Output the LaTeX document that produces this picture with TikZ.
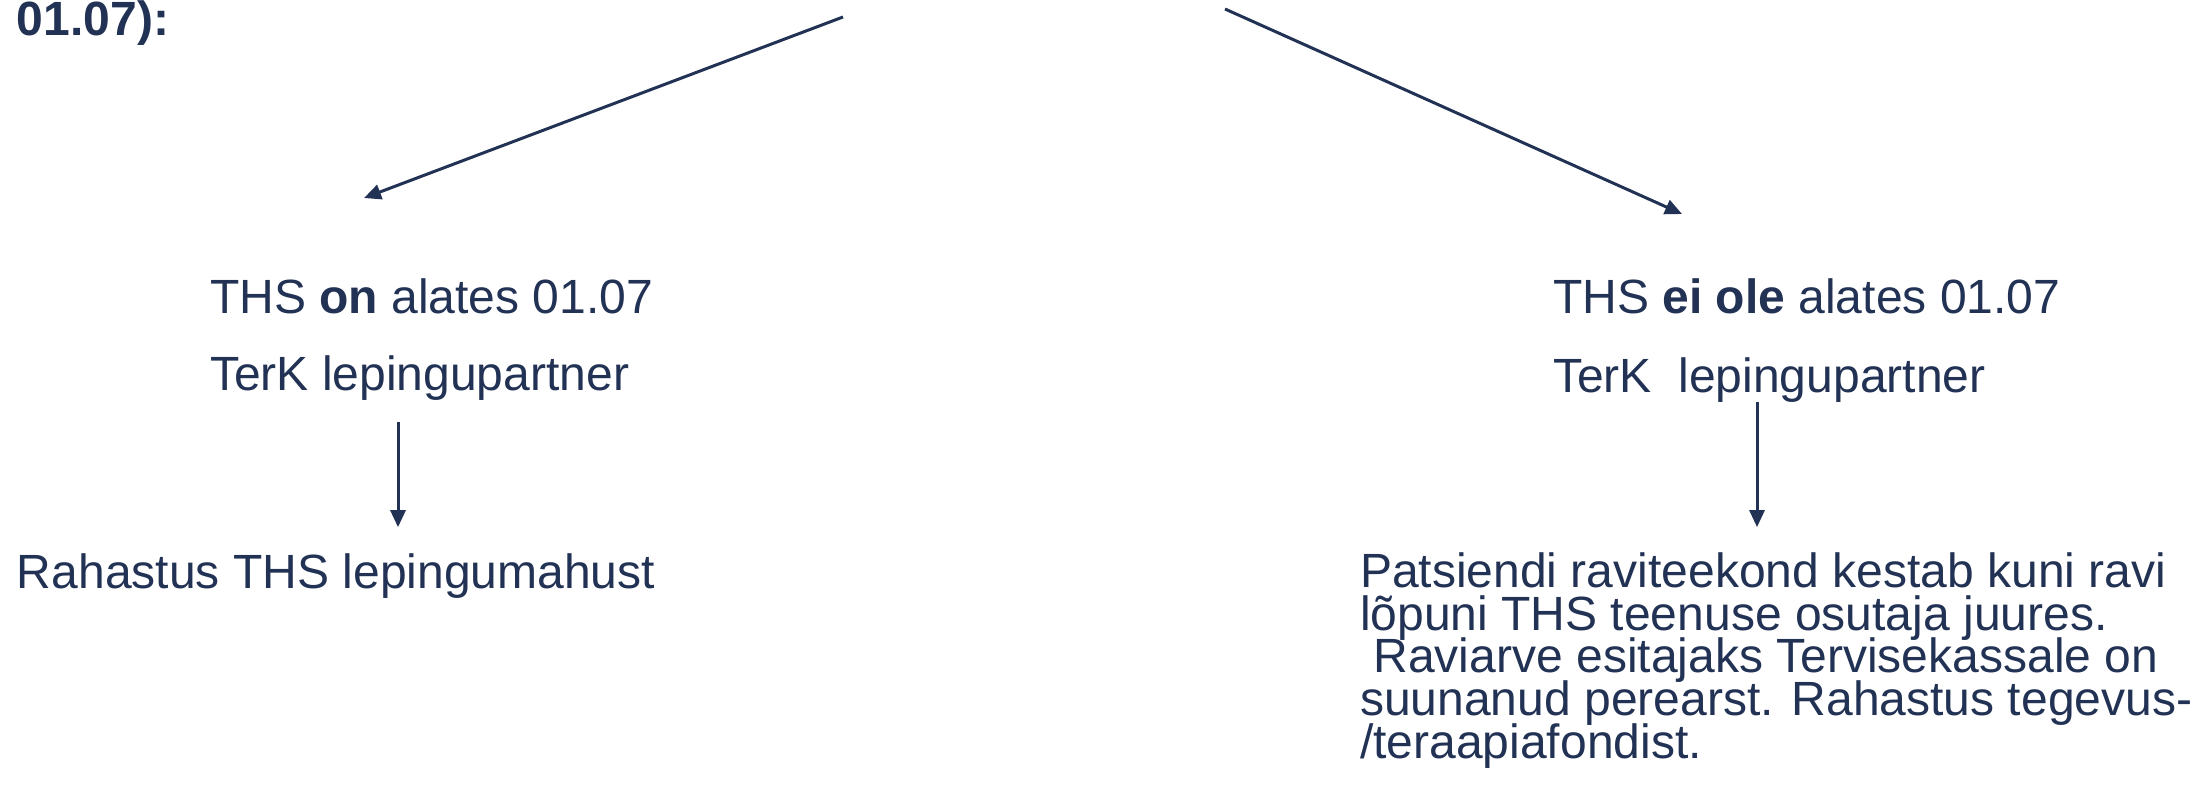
\documentclass[tikz,border=0pt]{standalone}
\usepackage{fontspec}
\setmainfont{Liberation Sans}
\usepackage{xcolor}
\usepackage{tikz}
\usetikzlibrary{arrows.meta,positioning}

\definecolor{navy}{RGB}{34,50,84}
\newcommand{\slidefont}{\fontsize{13.66pt}{12.09pt}\selectfont\lineskiplimit=-100pt\relax}

\begin{document}
\begin{tikzpicture}[
  x=0.01cm, y=-0.01cm,
  >={Triangle[length=0.17cm, width=0.15cm]},
  txt/.style={inner sep=0pt, outer sep=0pt, anchor=base west, text=navy,
              font=\slidefont},
  para/.style={txt, align=left},
  arrow/.style={->, draw=navy, fill=navy, line width=0.85pt},
]
\useasboundingbox (0,0) rectangle (2192,803);

% === Title remnant (top left) ===
\node[txt, font=\slidefont\bfseries] (title) at (17,35) {01.07):};

% === Left branch: THS is partner ===
\node[txt] (thsOn)  at (210,313) {THS \textbf{on} alates 01.07};
\node[txt] (terkOn) at (210,390) {TerK lepingupartner};
\node[txt] (rahastus) at (17,588) {Rahastus THS lepingumahust};

% === Right branch: THS is not partner ===
\node[txt] (thsEi)  at (1553,313) {THS \textbf{ei ole} alates 01.07};
\node[txt] (terkEi) at (1553,392) {TerK\ \ lepingupartner};
% base of a multi-line node sits on its last line
\node[para] (patsient) at (1360,758)
  {Patsiendi raviteekond kestab kuni ravi\\
   lõpuni THS teenuse osutaja juures.\\
   \hspace*{0.28em}Raviarve esitajaks Tervisekassale on\\
   suunanud perearst. Rahastus tegevus-\\
   /teraapiafondist.};

% === Arrows from the title ===
\coordinate (startL) at (843,17);
\coordinate (startR) at (1225,9);
\coordinate (tipL) at (364,198);
\coordinate (tipR) at (1682,214);
\draw[arrow] (startL) -- (tipL);
\draw[arrow] (startR) -- (tipR);

% === Down arrows ===
\coordinate (downL) at (398,0);
\coordinate (downR) at (1757,0);
\draw[arrow, shorten <=0.22cm, shorten >=0.26cm]
  (terkOn.south -| downL) -- (rahastus.north -| downL);
\draw[arrow, shorten >=0.26cm]
  (terkEi.south -| downR) -- (patsient.north -| downR);

\end{tikzpicture}
\end{document}
